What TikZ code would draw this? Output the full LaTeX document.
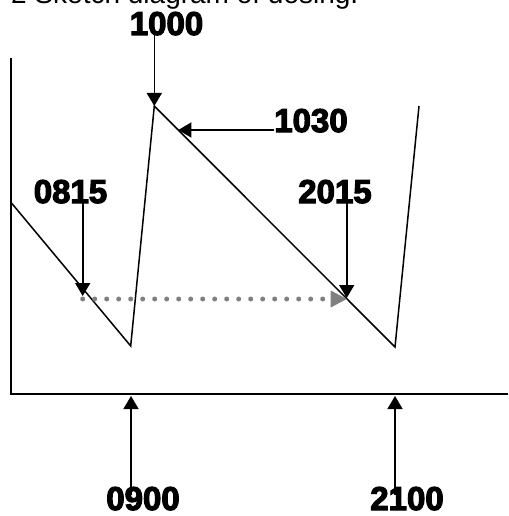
\documentclass[tikz,border=0pt]{standalone}
\usepackage{fontspec}
\setmainfont{Liberation Sans}
\newfontfamily\heavyfont[FakeBold=3.5]{Liberation Sans Bold}
\newfontfamily\titlefont{Liberation Sans}
\usetikzlibrary{arrows.meta}
\definecolor{dotgray}{RGB}{128,128,128}
\tikzset{
  lbl/.style={anchor=base,inner sep=0pt,font=\heavyfont\fontsize{33}{33}\selectfont},
  pointer/.style={line width=1.6pt,-{Triangle[length=13pt,width=15pt]}},
  curveline/.style={line width=1.5pt,line join=miter},
  axisline/.style={line width=1.6pt},
  dotline/.style={dotgray,line width=5pt,line cap=round,dash pattern=on 0pt off 12pt,
    -{Triangle[length=16pt,width=17pt,line width=0pt]}}
}
\begin{document}
\begin{tikzpicture}[x=1pt,y=-1pt]
\useasboundingbox (0,0) rectangle (508,516);
% title (cut off at the top)
\begin{scope}
\clip (0,0) rectangle (508,516);
\node[anchor=base west,inner sep=0pt,font=\titlefont\fontsize{28}{28}\selectfont] (title) at (11,3.5) {2 Sketch diagram of dosing.};
\end{scope}
% axes
\coordinate (ytop) at (11,58);
\coordinate (orig) at (11,394);
\coordinate (xend) at (508,394);
\draw[axisline] (ytop) -- (orig) -- (xend);
% concentration curve
\coordinate (c0) at (11.5,203);
\coordinate (c1) at (130.7,346);
\coordinate (c2) at (154.3,106);
\coordinate (c3) at (395,347);
\coordinate (c4) at (419,106);
\draw[curveline] (c0) -- (c1) -- (c2) -- (c3) -- (c4);
% targets
\coordinate (t1030) at (178.3,130);
\coordinate (t0815) at (82.7,296);
\coordinate (d0815) at (82.7,299);
\coordinate (t2015) at (346.7,298);
\coordinate (b0900) at (131,396);
\coordinate (b2100) at (395,396);
% labels
\node[lbl] (l1000) at (166.5,35) {1000};
\node[lbl] (l1030) at (311,132) {1030};
\node[lbl] (l0815) at (70.5,203) {0815};
\node[lbl] (l2015) at (335,203) {2015};
\node[lbl] (l0900) at (143,510) {0900};
\node[lbl] (l2100) at (407,510) {2100};
% pointers
\draw[pointer] (l1000.south -| c2) ++(0,-2) -- (c2);
\draw[pointer] (t1030 -| l1030.west) -- (t1030);
\draw[pointer] (l0815.south -| t0815) ++(0,-2) -- (t0815);
\draw[pointer] (l2015.south -| t2015) ++(0,-2) -- (t2015);
\draw[pointer] (l0900.north -| b0900) ++(0,8) -- (b0900);
\draw[pointer] (l2100.north -| b2100) ++(0,8) -- (b2100);
% dotted interval arrow
\draw[dotline] (d0815) -- (t2015 |- d0815);
\end{tikzpicture}
\end{document}
